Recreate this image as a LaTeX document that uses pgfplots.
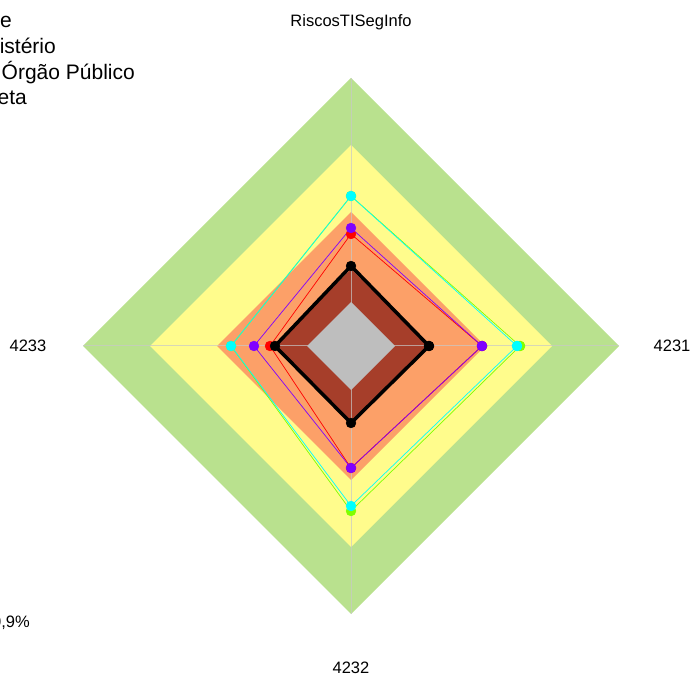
\documentclass[border=0pt]{standalone}
\usepackage{pgfplots}
\pgfplotsset{compat=1.18}
\usepackage{fontspec}
\setmainfont{Liberation Sans}

\definecolor{bandgreen}{RGB}{185,225,142}
\definecolor{bandyellow}{RGB}{255,252,140}
\definecolor{bandorange}{RGB}{252,160,104}
\definecolor{bandbrown}{RGB}{166,62,42}
\definecolor{bandgrey}{RGB}{190,190,190}
\definecolor{spoke}{RGB}{200,200,200}
\definecolor{rbred}{HTML}{FF0000}
\definecolor{rblime}{HTML}{80FF00}
\definecolor{rbcyan}{HTML}{00FFFF}
\definecolor{rbviolet}{HTML}{8000FF}

\begin{document}
\begin{tikzpicture}
\path[use as bounding box, clip] (0,0) rectangle (693pt,675pt);

% legend (cut off at the left edge, as in the reference)
\begin{scope}[font=\fontsize{21}{25}\selectfont]
\node[anchor=base east, inner sep=0] at (12pt,647pt) {Média da Rede};
\node[anchor=base east, inner sep=0] at (56pt,621pt) {Ministério};
\node[anchor=base east, inner sep=0] at (135pt,595pt) {Seu Órgão Público};
\node[anchor=base east, inner sep=0] at (27pt,570pt) {Meta};
\end{scope}
\node[anchor=base east, inner sep=0, font=\fontsize{16.5}{20}\selectfont] at (30pt,48pt) {10,9\%};

% axis labels
\begin{scope}[font=\fontsize{16.5}{20}\selectfont]
\node[anchor=base, inner sep=0] at (351pt,648pt) {RiscosTISegInfo};
\node[anchor=base, inner sep=0] at (672pt,323pt) {4231};
\node[anchor=base, inner sep=0] at (351pt,2pt) {4232};
\node[anchor=base, inner sep=0] at (28pt,323pt) {4233};
\end{scope}

\begin{axis}[
at={(351pt,329pt)}, anchor=origin,
x=1pt, y=1pt,
xmin=-300, xmax=300, ymin=-300, ymax=300,
hide axis, clip=false,
every axis plot/.append style={mark=*, mark size=5pt, mark options={line width=0.3pt}},
]
% bands: angle, radius
\addplot[draw=none, fill=bandgreen, no marks, data cs=polar] coordinates {(0,268) (90,268) (180,268) (270,268)};
\addplot[draw=none, fill=bandyellow, no marks, data cs=polar] coordinates {(0,201) (90,201) (180,201) (270,201)};
\addplot[draw=none, fill=bandorange, no marks, data cs=polar] coordinates {(0,134) (90,134) (180,134) (270,134)};
\addplot[draw=none, fill=bandbrown, no marks, data cs=polar] coordinates {(0,77) (90,77) (180,77) (270,77)};
% spokes
\addplot[spoke, opacity=0.7, line width=1pt, no marks, data cs=polar] coordinates {(180,268) (0,268)};
\addplot[spoke, opacity=0.7, line width=1pt, no marks, data cs=polar] coordinates {(90,268) (270,268)};
\addplot[draw=none, fill=bandgrey, no marks, data cs=polar] coordinates {(0,44) (90,44) (180,44) (270,44)};

% series: 4231 (0 deg), RiscosTISegInfo (90), 4233 (180), 4232 (270)
\addplot[rbred, line width=0.7pt, data cs=polar] coordinates {(0,131) (90,112) (180,81) (270,122) (0,131)};
\addplot[rblime, line width=0.7pt, data cs=polar] coordinates {(0,169) (90,150) (180,120) (270,165) (0,169)};
\addplot[rbcyan, line width=0.7pt, data cs=polar] coordinates {(0,166) (90,150) (180,120) (270,160) (0,166)};
\addplot[rbviolet, line width=0.7pt, data cs=polar] coordinates {(0,131) (90,118) (180,97) (270,122) (0,131)};
\addplot[black, line width=3.5pt, data cs=polar] coordinates {(0,78) (90,80) (180,76) (270,77) (0,78)};
\end{axis}
\end{tikzpicture}
\end{document}
